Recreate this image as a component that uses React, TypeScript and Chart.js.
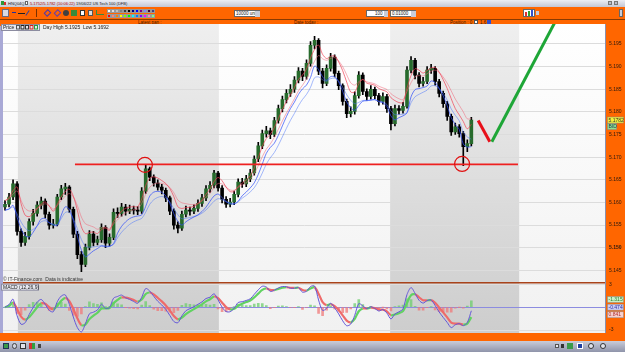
import React, { useEffect, useRef } from 'react';
import { Chart, registerables } from 'chart.js';
Chart.register(...registerables);

// ---------- DATA ----------
const firstOpen = 5.159;
const closes = [
  5.1596, 5.1612, 5.1641, 5.1536, 5.1512, 5.1525, 5.1558, 5.1576, 5.1594, 5.1603,
  5.1574, 5.155, 5.1552, 5.1612, 5.163, 5.1634, 5.1585, 5.153, 5.1485, 5.1463,
  5.1501, 5.153, 5.1512, 5.1518, 5.1545, 5.151, 5.1523, 5.1578, 5.1576, 5.159,
  5.1581, 5.1585, 5.1583, 5.1581, 5.1625, 5.1674, 5.1656, 5.1643, 5.1634, 5.1627,
  5.161, 5.1581, 5.155, 5.1543, 5.1574, 5.1583, 5.1581, 5.1587, 5.1598, 5.161,
  5.163, 5.1638, 5.1665, 5.1632, 5.1607, 5.1596, 5.1601, 5.1618, 5.1645, 5.1641,
  5.1652, 5.1665, 5.1696, 5.1725, 5.1752, 5.1758, 5.175, 5.1781, 5.1807, 5.1827,
  5.1841, 5.185, 5.187, 5.189, 5.1878, 5.1907, 5.1947, 5.1958, 5.189, 5.1863,
  5.1896, 5.1921, 5.1885, 5.1858, 5.1823, 5.1796, 5.1801, 5.1836, 5.1881, 5.1845,
  5.1834, 5.185, 5.1836, 5.1823, 5.1834, 5.1807, 5.1774, 5.1807, 5.1803, 5.1812,
  5.1892, 5.1914, 5.1881, 5.1863, 5.1867, 5.1892, 5.1896, 5.1867, 5.1841, 5.1818,
  5.179, 5.1756, 5.1767, 5.1752, 5.1723, 5.173, 5.1782,
];
const highs = [
  5.1604, 5.162, 5.165, 5.1646, 5.1542, 5.1534, 5.1564, 5.1585, 5.1602, 5.1612,
  5.1608, 5.1579, 5.1563, 5.1618, 5.1638, 5.1642, 5.1637, 5.159, 5.1536, 5.1492,
  5.1508, 5.1538, 5.1536, 5.1526, 5.1553, 5.1549, 5.1531, 5.1586, 5.1588, 5.1598,
  5.1596, 5.1594, 5.1592, 5.1591, 5.1633, 5.1682, 5.1678, 5.1661, 5.165, 5.164,
  5.1632, 5.1614, 5.1586, 5.1557, 5.1581, 5.1592, 5.159, 5.1595, 5.1606, 5.1618,
  5.1637, 5.1646, 5.1671, 5.1669, 5.1637, 5.1613, 5.1609, 5.1625, 5.1652, 5.1653,
  5.166, 5.1673, 5.1703, 5.1733, 5.176, 5.1768, 5.1764, 5.1788, 5.1815, 5.1835,
  5.1849, 5.186, 5.1878, 5.1898, 5.1896, 5.1915, 5.1955, 5.1967, 5.1962, 5.1896,
  5.1904, 5.1929, 5.1926, 5.189, 5.1862, 5.1828, 5.1811, 5.1844, 5.1889, 5.1886,
  5.1851, 5.1858, 5.1855, 5.1841, 5.1842, 5.1839, 5.1812, 5.1815, 5.1814, 5.1821,
  5.19, 5.1922, 5.1918, 5.1887, 5.1876, 5.19, 5.1905, 5.19, 5.1872, 5.1846,
  5.1823, 5.1795, 5.1775, 5.1772, 5.1757, 5.1738, 5.1788,
];
const lows = [
  5.1583, 5.159, 5.1606, 5.1528, 5.1503, 5.1505, 5.1519, 5.155, 5.157, 5.1586,
  5.1566, 5.1541, 5.1543, 5.1548, 5.1606, 5.1618, 5.1578, 5.1522, 5.1476, 5.1447,
  5.1458, 5.1495, 5.1504, 5.1506, 5.1512, 5.15, 5.1504, 5.1518, 5.1567, 5.157,
  5.1572, 5.1575, 5.1574, 5.1573, 5.1576, 5.162, 5.1648, 5.1636, 5.1627, 5.1619,
  5.1602, 5.1573, 5.1541, 5.1533, 5.1538, 5.1568, 5.1572, 5.1575, 5.158, 5.1591,
  5.1604, 5.1622, 5.1632, 5.1625, 5.1599, 5.1589, 5.159, 5.1595, 5.1612, 5.1633,
  5.1635, 5.1646, 5.166, 5.169, 5.1719, 5.1744, 5.1741, 5.1745, 5.1775, 5.18,
  5.182, 5.1834, 5.1843, 5.1864, 5.1869, 5.1872, 5.1901, 5.1939, 5.1882, 5.1853,
  5.1858, 5.189, 5.1877, 5.1849, 5.1815, 5.1787, 5.1789, 5.1795, 5.183, 5.1838,
  5.1826, 5.1828, 5.1829, 5.1815, 5.1817, 5.1799, 5.176, 5.1769, 5.1795, 5.1797,
  5.1808, 5.1886, 5.1873, 5.1855, 5.1857, 5.1862, 5.1885, 5.1859, 5.1833, 5.181,
  5.1781, 5.1748, 5.175, 5.1744, 5.1681, 5.1712, 5.1725,
];

const slotCount = 150;
const tickIndex = [2, 7, 13, 17, 27, 41, 53, 56, 62, 65, 72, 85, 96, 98, 104, 107, 116, 120, 124, 128, 132, 136, 141, 144];
const tickText = ['06', '03:14', '08:32', '12:14', '15:00', '18:01', '07', '03:00', '08:05', '12:00', '15:00', '18:00', '08', '01:10', '08:02', '12:00', '15:00', '18:07', '21:01', '09', '03:02', '06:04', '09:07', '12:02'];
const dayLabels = ['06', '07', '08', '09'];
const shadedStart = [3.2, 95.8];
const shadedEnd = [53.2, 127.9];

const priceMin = 5.14229;
const priceMax = 5.1994;
const priceTicks = [5.145, 5.15, 5.155, 5.16, 5.165, 5.17, 5.175, 5.18, 5.185, 5.19, 5.195];
const boldPrice = 5.15;
const macdMin = -3.38;
const macdMax = 3.2;
const macdTicks = [-3, -2, -1, 0, 1, 2, 3];
const macdShown = [3, 2, -2, -3];

// moving averages: red on highs, blue on lows
const redPeriods = [4, 7];
const bluePeriods = [4, 7];
const macdFast = 3;
const macdSlow = 6;
const macdSignal = 3;
const macdScale = 1000;

// annotations (data units: slot index, price)
const supportLevel = 5.1684;
const supportFrom = 17.4;
const supportTo = 127.6;
const circleIndex = [34.8, 113.7];
const circleLevel = [5.1683, 5.1685];
const redStrokeX = [117.7, 120.6];
const redStrokeY = [5.1781, 5.1734];
const greenStrokeX = [121.1, 137.1];
const greenStrokeY = [5.1734, 5.2003];

const FONT = "'Liberation Sans', Arial, sans-serif";

function ema(src: number[], p: number) {
  const k = 2 / (p + 1);
  const out: number[] = [];
  let prev = src[0];
  src.forEach((v, i) => {
    prev = i === 0 ? v : v * k + prev * (1 - k);
    out.push(prev);
  });
  return out;
}

function Box(props: any) {
  const { x, y, w, h, bg, border, children, style } = props;
  return (
    <div style={{ position: 'absolute', left: x, top: y, width: w, height: h, background: bg, border, boxSizing: 'border-box', ...style }}>
      {children}
    </div>
  );
}

function Txt(props: any) {
  const { x, y, size = 5, color = '#222', weight = 'normal', children } = props;
  return (
    <div style={{ position: 'absolute', left: x, top: y, fontSize: size, lineHeight: `${size + 1}px`, color, fontWeight: weight, whiteSpace: 'nowrap', fontFamily: FONT }}>
      {children}
    </div>
  );
}

const paletteTop = ['#ffffff', '#e0e0e0', '#c0c0c0', '#808080', '#404040', '#000000', '#000080', '#0000ff', '#800080', '#8080ff', '#400040', '#404080'];
const paletteBot = ['#ff0000', '#ff8080', '#ff8000', '#ffff00', '#80ff00', '#00ff00', '#00ffff', '#0080ff', '#8000ff', '#ff00ff', '#ff80c0', '#80ff80'];

export default function App() {
  const ref = useRef<HTMLCanvasElement>(null);

  useEffect(() => {
    const opens = closes.map((c, i) => (i === 0 ? firstOpen : closes[i - 1]));
    const labels = Array.from({ length: slotCount }, () => '');
    tickIndex.forEach((ix, k) => (labels[ix] = tickText[k]));
    const redLines = redPeriods.map((p) => ema(highs, p));
    const blueLines = bluePeriods.map((p) => ema(lows, p));
    const fast = ema(closes, macdFast);
    const slow = ema(closes, macdSlow);
    const macd = fast.map((f, i) => (f - slow[i]) * macdScale);
    const signal = ema(macd, macdSignal);
    const hist = macd.map((m, i) => m - signal[i]);
    const last = closes.length - 1;

    const overlay = {
      id: 'overlay',
      beforeDraw(chart: any) {
        const { ctx, chartArea: a, scales } = chart;
        const xs = scales.x;
        ctx.save();
        const g = ctx.createLinearGradient(0, a.top, 0, a.bottom);
        g.addColorStop(0, '#ffffff');
        g.addColorStop(1, '#f1f1f1');
        ctx.fillStyle = g;
        ctx.fillRect(a.left, a.top, a.right - a.left, a.bottom - a.top);
        shadedStart.forEach((s, k) => {
          const x0 = xs.getPixelForValue(s);
          const x1 = xs.getPixelForValue(shadedEnd[k]);
          const gg = ctx.createLinearGradient(0, a.top, 0, a.bottom);
          gg.addColorStop(0, '#efefef');
          gg.addColorStop(1, '#cdcdcd');
          ctx.fillStyle = gg;
          ctx.fillRect(x0, a.top, x1 - x0, a.bottom - a.top);
        });
        ctx.restore();
      },
      afterDatasetsDraw(chart: any) {
        const { ctx, chartArea: a, scales } = chart;
        const xs = scales.x, ys = scales.y, y2 = scales.y2;
        ctx.save();
        ctx.beginPath();
        ctx.rect(a.left, ys.top, a.right - a.left, ys.bottom - ys.top);
        ctx.clip();
        ctx.strokeStyle = '#ee2020';
        ctx.lineWidth = 1.6;
        ctx.beginPath();
        ctx.moveTo(xs.getPixelForValue(supportFrom), ys.getPixelForValue(supportLevel));
        ctx.lineTo(xs.getPixelForValue(supportTo), ys.getPixelForValue(supportLevel));
        ctx.stroke();
        ctx.lineWidth = 1.2;
        ctx.strokeStyle = '#e01010';
        circleIndex.forEach((ci, k) => {
          ctx.beginPath();
          ctx.arc(xs.getPixelForValue(ci), ys.getPixelForValue(circleLevel[k]), 7.5, 0, Math.PI * 2);
          ctx.stroke();
        });
        ctx.lineWidth = 3;
        ctx.strokeStyle = '#e8101a';
        ctx.beginPath();
        ctx.moveTo(xs.getPixelForValue(redStrokeX[0]), ys.getPixelForValue(redStrokeY[0]));
        ctx.lineTo(xs.getPixelForValue(redStrokeX[1]), ys.getPixelForValue(redStrokeY[1]));
        ctx.stroke();
        ctx.strokeStyle = '#1ea637';
        ctx.beginPath();
        ctx.moveTo(xs.getPixelForValue(greenStrokeX[0]), ys.getPixelForValue(greenStrokeY[0]));
        ctx.lineTo(xs.getPixelForValue(greenStrokeX[1]), ys.getPixelForValue(greenStrokeY[1]));
        ctx.stroke();
        ctx.restore();

        ctx.save();
        ctx.strokeStyle = '#a8431a';
        ctx.lineWidth = 1.5;
        ctx.beginPath();
        ctx.moveTo(a.left, y2.top);
        ctx.lineTo(a.right, y2.top);
        ctx.stroke();
        ctx.strokeStyle = '#8a90ac';
        ctx.lineWidth = 1;
        ctx.beginPath();
        ctx.moveTo(a.right - 0.5, a.top);
        ctx.lineTo(a.right - 0.5, a.bottom);
        ctx.stroke();
        ctx.font = `5px ${FONT}`;
        ctx.fillStyle = '#333';
        ctx.textBaseline = 'middle';
        ctx.fillText('\u00a9 IT-Finance.com  Data is indicative', 3, ys.bottom - 3);
        ctx.fillStyle = '#e6e7ef';
        ctx.strokeStyle = '#8c8ca0';
        ctx.fillRect(1, a.top + 0.5, 39, 6);
        ctx.strokeRect(1.5, a.top + 0.5, 38, 6);
        ctx.fillStyle = '#222';
        ctx.fillText('Price', 3, a.top + 3.6);
        const iconCols = ['#555', '#222', '#333', '#d02020', '#20a040'];
        iconCols.forEach((c, k) => {
          ctx.strokeStyle = c;
          ctx.strokeRect(16.5 + k * 4.5, a.top + 1.5, 3, 3.5);
        });
        ctx.fillStyle = '#222';
        ctx.fillText('Day High 5.1925  Low 5.1692', 43, a.top + 3.6);
        ctx.fillStyle = '#e6e7ef';
        ctx.strokeStyle = '#8c8ca0';
        ctx.fillRect(1, y2.top + 1.5, 38, 6);
        ctx.strokeRect(1.5, y2.top + 1.5, 37, 6);
        ctx.fillStyle = '#222';
        ctx.fillText('MACD (12,26,9)', 3, y2.top + 4.6);
        ctx.restore();
      },
      afterDraw(chart: any) {
        const { ctx, chartArea: a, scales } = chart;
        const ys = scales.y, y2 = scales.y2;
        ctx.save();
        ctx.font = `5px ${FONT}`;
        ctx.textBaseline = 'middle';
        const tag = (y: number, bg: string, fg: string, text: string, w = 16) => {
          ctx.fillStyle = bg;
          ctx.fillRect(a.right + 1.5, y - 3, w, 6);
          ctx.strokeStyle = '#888';
          ctx.lineWidth = 0.5;
          ctx.strokeRect(a.right + 1.5, y - 3, w, 6);
          ctx.fillStyle = fg;
          ctx.fillText(text, a.right + 2.5, y + 0.3);
        };
        const py = ys.getPixelForValue(closes[last]);
        tag(py, '#f4f03a', '#333', closes[last].toFixed(4));
        tag(py + 6.5, '#8ee08e', '#235', 'BID', 9);
        tag(y2.getPixelForValue(1), '#c8f0c8', '#2a7a2a', signal[last].toFixed(3));
        tag(y2.getPixelForValue(0), '#c8ccf4', '#2a2aa0', macd[last].toFixed(3));
        tag(y2.getPixelForValue(-1), '#f6d0d0', '#b03030', hist[last].toFixed(3));
        ctx.restore();
      },
    };

    const redColors = ['rgba(240,60,80,0.85)', 'rgba(240,100,120,0.65)'];
    const blueColors = ['rgba(50,80,250,0.9)', 'rgba(80,120,250,0.65)'];

    const fixTicks = (vals: number[]) => (s: any) => {
      s.ticks = vals.map((v) => ({ value: v }));
    };

    let chart: any = null;
    try {
      chart = new Chart(ref.current as HTMLCanvasElement, {
        type: 'bar',
        data: {
          labels,
          datasets: [
            {
              type: 'bar',
              data: lows.map((l, i) => [l, highs[i]]),
              yAxisID: 'y',
              backgroundColor: '#000',
              barThickness: 1,
              grouped: false,
              order: 3,
            },
            {
              type: 'bar',
              data: opens.map((o, i) => [o, closes[i]]),
              yAxisID: 'y',
              backgroundColor: closes.map((c, i) => (c >= opens[i] ? '#276b2c' : '#000000')),
              borderWidth: 0,
              barThickness: 3,
              minBarLength: 1,
              grouped: false,
              order: 2,
            },
            ...blueLines.map((d, k) => ({
              type: 'line', data: d, yAxisID: 'y', borderColor: blueColors[k], borderWidth: 0.8,
              pointRadius: 0, tension: 0.3, order: 1,
            })),
            ...redLines.map((d, k) => ({
              type: 'line', data: d, yAxisID: 'y', borderColor: redColors[k], borderWidth: 0.8,
              pointRadius: 0, tension: 0.3, order: 0,
            })),
            {
              type: 'bar',
              data: hist,
              yAxisID: 'y2',
              backgroundColor: hist.map((h) => (h >= 0 ? 'rgba(110,205,110,0.75)' : 'rgba(240,120,120,0.75)')),
              barThickness: 2,
              grouped: false,
              order: 6,
            },
            {
              type: 'line',
              data: signal,
              yAxisID: 'y2',
              borderColor: '#ee6a6a',
              borderWidth: 2.2,
              pointRadius: 0,
              tension: 0.3,
              segment: {
                borderColor: (c: any) => (macd[c.p1DataIndex] >= signal[c.p1DataIndex] ? '#62d262' : '#ee6a6a'),
              },
              order: 0,
            },
            {
              type: 'line',
              data: macd,
              yAxisID: 'y2',
              borderColor: '#6458d8',
              borderWidth: 1,
              pointRadius: 0,
              tension: 0.3,
              order: -1,
            },
          ] as any,
        },
        options: {
          responsive: false,
          maintainAspectRatio: false,
          animation: false,
          layout: { autoPadding: false, padding: { left: 3, right: 0, top: 0, bottom: 0 } },
          plugins: { legend: { display: false }, tooltip: { enabled: false } },
          scales: {
            x: {
              type: 'category',
              offset: true,
              grid: { display: false },
              border: { display: false },
              ticks: {
                autoSkip: false,
                maxRotation: 0,
                minRotation: 0,
                padding: 1,
                color: '#2a1a10',
                font: (c: any) => ({ size: 5, family: FONT, weight: c && typeof c.index === 'number' && dayLabels.includes(labels[c.index]) ? 'bold' : 'normal' }),
              },
              afterFit: (s: any) => { s.height = 8; },
            },
            y: {
              position: 'right',
              stack: 'pane',
              stackWeight: 257,
              min: priceMin,
              max: priceMax,
              grid: { color: '#dcdcdc', drawTicks: false },
              border: { display: false },
              afterBuildTicks: fixTicks(priceTicks),
              ticks: {
                padding: 3,
                color: '#2a1a10',
                font: (c: any) => ({ size: 5, family: FONT, weight: c && c.tick && Math.abs(c.tick.value - boldPrice) < 1e-6 ? 'bold' : 'normal' }),
                callback: (v: any) => Number(v).toFixed(3),
              },
              afterFit: (s: any) => { s.width = 19; },
            },
            y2: {
              position: 'right',
              stack: 'pane',
              stackWeight: 50,
              min: macdMin,
              max: macdMax,
              grid: { color: (c: any) => (c && c.tick && c.tick.value === 0 ? '#8c8ce0' : '#dedede'), drawTicks: false },
              border: { display: false },
              afterBuildTicks: fixTicks(macdTicks),
              ticks: {
                padding: 3,
                color: '#2a1a10',
                font: { size: 5, family: FONT },
                callback: (v: any) => (macdShown.includes(Number(v)) ? String(v) : ''),
              },
              afterFit: (s: any) => { s.width = 19; },
            },
          } as any,
        },
        plugins: [overlay],
      } as any);
    } catch (e) {
      console.error(e);
    }
    return () => { if (chart) chart.destroy(); };
  }, []);

  return (
    <div style={{ position: 'relative', width: 625, height: 352, overflow: 'hidden', background: '#ff6600', fontFamily: FONT }}>
      <style>{`body{margin:0}`}</style>
      <Box x={0} y={0} w={625} h={7} bg="linear-gradient(#eceef4,#c3c6d4)" />
      <Box x={1} y={1} w={3} h={4} bg="#2a9a3a" />
      <Box x={4} y={2} w={2} h={3} bg="#d03030" />
      <Txt x={8} y={0.8} size={4} color="#222">HNQ04Q1</Txt>
      <Box x={25} y={1} w={3} h={4} bg="#fff" border="0.5px solid #666" />
      <Txt x={30} y={0.8} size={4} color="#b00000">5.1752/5.1782 (10:06:22)</Txt>
      <Txt x={76} y={0.8} size={4} color="#222">19/06/22 US Tech 100 (DFB)</Txt>
      <Box x={608} y={1} w={4} h={4} bg="#b8bccb" border="0.5px solid #777" />
      <Box x={614} y={1} w={4} h={4} bg="#b8bccb" border="0.5px solid #777" />
      <Box x={2} y={9} w={7} h={8} bg="#d8dae4" border="0.5px solid #6a6a80" />
      <Box x={12} y={12} w={4} h={1} bg="#2030a0" />
      <Box x={18} y={13} w={7} h={1} bg="#202020" />
      <Box x={27} y={10} w={1} h={6} bg="#3040a0" style={{ transform: 'rotate(35deg)' }} />
      <Box x={36} y={9} w={1} h={8} bg="#7a3000" />
      <Box x={45} y={10} w={5} h={6} bg="transparent" border="1px solid #4a3ab0" style={{ transform: 'rotate(45deg)' }} />
      <Box x={55} y={10} w={5} h={6} bg="transparent" border="1px solid #6040b0" style={{ transform: 'rotate(45deg)' }} />
      <Box x={63} y={10} w={6} h={6} bg="#404040" style={{ borderRadius: 3 }} />
      <Box x={71} y={10} w={6} h={6} bg="#3a8a3a" />
      <Box x={80} y={10} w={5} h={6} bg="#fff" border="1px solid #333" />
      <Box x={88} y={10} w={5} h={6} bg="#ddd" border="1px solid #555" />
      <Box x={96} y={10} w={8} h={5} bg="transparent" border="1px solid #3a8a3a" style={{ borderTop: 'none', borderRight: 'none' }} />
      {paletteTop.map((c, k) => (
        <Box key={'pt' + k} x={107 + k * 4} y={9} w={4} h={4} bg={c} border="0.3px solid #999" />
      ))}
      {paletteBot.map((c, k) => (
        <Box key={'pb' + k} x={107 + k * 4} y={13.5} w={4} h={4} bg={c} border="0.3px solid #999" />
      ))}
      <Box x={234} y={10} w={26} h={7} bg="#fff" border="0.5px solid #666" />
      <Txt x={236} y={11} size={4.5} color="#222">10000 units</Txt>
      <Box x={255} y={10.5} w={4.5} h={6} bg="#c8cbd8" />
      <Box x={366} y={10} w={22} h={7} bg="#fff" border="0.5px solid #666" />
      <Txt x={375} y={11} size={4.5} color="#222">100</Txt>
      <Box x={384} y={10.5} w={3.5} h={6} bg="#c8cbd8" />
      <Box x={390} y={10} w={26} h={7} bg="#fff" border="0.5px solid #666" />
      <Txt x={392} y={11} size={4.5} color="#222">0.01000</Txt>
      <Box x={411} y={10.5} w={4.5} h={6} bg="#c8cbd8" />
      <Box x={523} y={9} w={12} h={8} bg="#fff" border="0.5px solid #666" />
      <Box x={525} y={12} w={2} h={4} bg="#e03030" />
      <Box x={528} y={11} w={2} h={5} bg="#30a030" />
      <Box x={531} y={10} w={2} h={6} bg="#3050d0" />
      <Box x={536} y={11} w={3} h={4} bg="#c8cbd8" />
      <Box x={619} y={9} w={4} h={8} bg="#c8cbd8" border="0.5px solid #666" />
      <Box x={0} y={19} w={625} h={1} bg="#8a3a00" />
      <Txt x={138} y={20} size={4.5} color="#3a1a00">Latest pan :</Txt>
      <Txt x={294} y={20} size={4.5} color="#3a1a00">Date today :</Txt>
      <Txt x={450} y={20} size={4.5} color="#3a1a00">Position : 0</Txt>
      <Box x={474} y={20} w={4} h={4} bg="#fff" border="0.5px solid #555" />
      <Txt x={480} y={20} size={4.5} color="#3a1a00">1.6</Txt>
      <Box x={487} y={20} w={4} h={4} bg="#3050d0" />
      <Box x={0} y={26} w={3} h={307} bg="#a9a9d6" />
      <canvas ref={ref} width={625} height={323} style={{ position: 'absolute', left: 0, top: 18, width: 625, height: 323 }} />
      <Box x={0} y={341} w={625} h={11} bg="linear-gradient(#c9ccd9,#8f94aa)" />
      <Box x={3} y={343} w={6} h={6} bg="#3a9a4a" border="0.5px solid #235" />
      <Box x={12} y={343} w={5} h={6} bg="#cfd2dc" border="0.5px solid #444" style={{ borderRadius: 3 }} />
      <Box x={20} y={343} w={6} h={6} bg="#e0e2ea" border="0.5px solid #333" />
      <Box x={29} y={343} w={3} h={6} bg="#d03030" />
      <Box x={32} y={343} w={3} h={6} bg="#30a040" />
      <Box x={38} y={344} w={3} h={4} bg="#444" />
      <Box x={555} y={344} w={4} h={4} bg="#e6e8ee" border="0.5px solid #555" />
      <Box x={561} y={344} w={3} h={4} bg="#333" />
      <Box x={567} y={343} w={6} h={6} bg="#3a9a4a" />
      <Box x={577} y={343} w={6} h={6} bg="#2040a0" border="0.5px solid #fff" />
      <Box x={588} y={343} w={6} h={6} bg="#e0e2ea" border="0.5px solid #333" style={{ borderRadius: 3 }} />
      <Box x={600} y={343} w={6} h={6} bg="#e0e2ea" border="0.5px solid #333" style={{ borderRadius: 3 }} />
    </div>
  );
}
